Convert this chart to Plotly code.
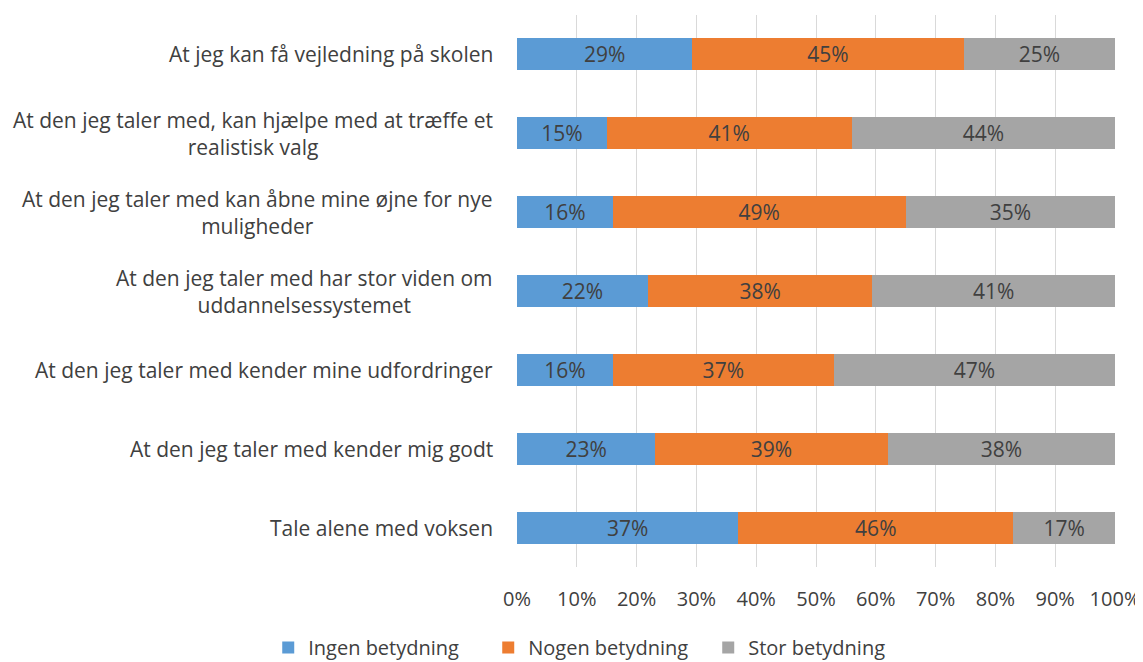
import plotly.graph_objects as go

categories = [
    "At jeg kan få vejledning på skolen",
    "At den jeg taler med, kan hjælpe med at træffe et<br>realistisk valg",
    "At den jeg taler med kan åbne mine øjne for nye<br>muligheder",
    "At den jeg taler med har stor viden om<br>uddannelsessystemet",
    "At den jeg taler med kender mine udfordringer",
    "At den jeg taler med kender mig godt",
    "Tale alene med voksen",
]
ingen = [29.3, 15.0, 16.0, 21.9, 16.0, 23.1, 37.0]
nogen = [45.4, 41.0, 49.0, 37.5, 37.0, 38.9, 46.0]
stor = [25.3, 44.0, 35.0, 40.6, 47.0, 38.0, 17.0]
labels_ingen = ["29%", "15%", "16%", "22%", "16%", "23%", "37%"]
labels_nogen = ["45%", "41%", "49%", "38%", "37%", "39%", "46%"]
labels_stor = ["25%", "44%", "35%", "41%", "47%", "38%", "17%"]
series_names = ["Ingen betydning", "Nogen betydning", "Stor betydning"]
colors = ["#5B9BD5", "#ED7D31", "#A5A5A5"]
xticks = [0, 10, 20, 30, 40, 50, 60, 70, 80, 90, 100]

FONT = "Open Sans"
TXT = "#404040"
FS = 21

fig = go.Figure()
for name, vals, labs, col in zip(series_names, [ingen, nogen, stor],
                                  [labels_ingen, labels_nogen, labels_stor], colors):
    fig.add_trace(go.Bar(
        y=list(range(len(categories))), x=vals, name=name, orientation="h",
        marker=dict(color=col, line=dict(width=0)),
        text=labs, textposition="inside", insidetextanchor="middle",
        textfont=dict(family=FONT, size=FS, color=TXT),
        constraintext="none",
    ))

for i, c in enumerate(categories):
    fig.add_annotation(
        x=0, xref="paper", y=i, yref="y", text=c, showarrow=False,
        xanchor="right", yanchor="middle", align="center", xshift=-22,
        font=dict(family=FONT, size=FS, color=TXT),
    )

fig.update_layout(
    barmode="stack", bargap=0.595,
    width=1135, height=654,
    margin=dict(l=509, r=28, t=7, b=95, autoexpand=False),
    paper_bgcolor="white", plot_bgcolor="white",
    font=dict(family=FONT, size=FS, color=TXT),
    showlegend=True,
    legend=dict(orientation="h", xref="paper", yref="paper",
                x=-0.416, xanchor="left", y=-0.146, yanchor="middle",
                font=dict(family=FONT, size=20, color=TXT), traceorder="normal",
                itemwidth=30, entrywidth=175, entrywidthmode="pixels"),
    uniformtext=dict(mode="show", minsize=10),
)
fig.update_xaxes(range=[0, 100], tickvals=xticks, ticktext=[f"{v}%" for v in xticks],
                 showgrid=True, gridcolor="#D9D9D9", gridwidth=1, zeroline=False,
                 showline=False, ticks="", ticklabelstandoff=18,
                 tickfont=dict(family=FONT, size=20, color=TXT),
                 automargin=False, fixedrange=True)
fig.update_yaxes(tickvals=list(range(len(categories))), showticklabels=False,
                 range=[len(categories) - 0.5, -0.5], showgrid=False, zeroline=False,
                 showline=False, automargin=False)

fig.write_html("out.html")
